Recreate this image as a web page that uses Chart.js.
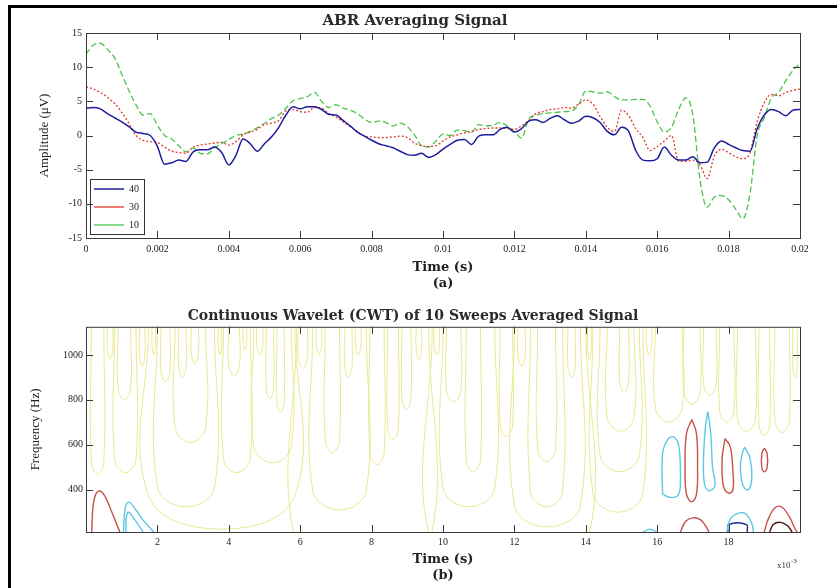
<!DOCTYPE html>
<html>
<head>
<meta charset="utf-8">
<script src="https://cdn.jsdelivr.net/npm/chart.js@4.4.1/dist/chart.umd.min.js"></script>
<style>
  html, body { margin: 0; padding: 0; background: #fff; }
  #wrap { position: relative; width: 837px; height: 588px; overflow: hidden; }
  #frame { position: absolute; left: 8px; top: 5px; width: 900px; height: 700px;
           border-top: 3px solid #000; border-left: 3px solid #000; }
  #abr { position: absolute; left: 0; top: 0; }
  #cwt { position: absolute; left: 0; top: 292px; }
</style>
</head>
<body>
<div id="wrap">
  <div id="frame"></div>
  <canvas id="abr" width="837" height="292"></canvas>
  <canvas id="cwt" width="837" height="296"></canvas>
</div>
<script>
// ---- (a) ABR averaging signal ----
const timeMs = [0,0.2,0.4,0.6,0.8,1,1.2,1.4,1.6,1.8,2,2.2,2.4,2.6,2.8,3,3.2,3.4,3.6,3.8,
  4,4.2,4.4,4.6,4.8,5,5.2,5.4,5.6,5.8,6,6.2,6.4,6.6,6.8,7,7.2,7.4,7.6,7.8,
  8,8.2,8.4,8.6,8.8,9,9.2,9.4,9.6,9.8,10,10.2,10.4,10.6,10.8,11,11.2,11.4,11.6,11.8,
  12,12.2,12.4,12.6,12.8,13,13.2,13.4,13.6,13.8,14,14.2,14.4,14.6,14.8,15,15.2,15.4,15.6,15.8,
  16,16.2,16.4,16.6,16.8,17,17.2,17.4,17.6,17.8,18,18.2,18.4,18.6,18.8,19,19.2,19.4,19.6,19.8,20];

const sweeps40 = [4.0,4.1,3.9,3.2,2.6,2.0,1.3,0.5,0.3,0.0,
  -1.6,-4.2,-4.0,-3.6,-3.8,-2.4,-2.1,-2.1,-1.7,-2.5,
  -4.3,-2.9,-0.5,-1.2,-2.3,-1.2,-0.2,1.2,3.0,4.2,
  3.9,4.2,4.2,3.8,3.1,3.0,2.2,1.4,0.5,-0.1,
  -0.7,-1.2,-1.5,-1.8,-2.3,-2.8,-2.9,-2.6,-3.2,-2.8,
  -2.0,-1.3,-0.7,-0.6,-1.3,-0.1,0.1,0.1,0.9,1.2,
  0.5,1.0,2.1,2.3,1.9,2.5,2.9,2.3,1.8,2.1,
  2.8,2.6,1.9,0.6,0.1,1.2,0.6,-2.2,-3.6,-3.7,
  -3.4,-1.7,-2.9,-3.6,-3.6,-3.1,-4.0,-3.9,-1.8,-0.8,
  -1.3,-1.8,-2.2,-2.3,1.0,3.0,3.8,3.5,2.9,3.7,
  3.8];

const sweeps30 = [7.1,6.8,6.3,5.6,4.7,3.4,1.8,0.0,-0.7,-0.9,
  -1.0,-1.7,-2.3,-2.5,-2.6,-1.7,-1.4,-1.25,-1.1,-1.0,
  -1.4,-0.9,0.1,0.5,0.9,1.6,1.8,2.2,3.6,3.8,
  3.5,3.4,4.1,4.0,3.2,2.7,2.0,1.3,0.6,-0.1,
  -0.2,-0.3,-0.3,-0.2,-0.1,-0.3,-1.1,-1.5,-1.6,-1.5,
  -0.8,-0.2,0.1,0.4,0.6,0.9,1.0,1.1,1.1,1.0,
  0.9,1.4,2.2,3.2,3.5,3.8,3.9,4.1,4.0,4.6,
  5.2,4.6,2.8,1.2,0.6,3.7,2.9,1.0,-0.3,-2.2,
  -1.6,-0.8,0.0,-3.8,-3.8,-3.6,-4.3,-6.3,-3.0,-2.0,
  -2.5,-3.1,-3.4,-2.5,2.0,4.8,6.0,5.8,6.3,6.6,
  6.8];

const sweeps10 = [11.9,13.2,13.5,12.6,11.4,9.0,6.6,4.5,3.0,3.2,
  1.5,0.0,-0.5,-1.5,-2.4,-1.8,-2.6,-2.7,-1.8,-1.2,
  -0.6,0.0,0.2,0.6,1.15,1.8,2.5,3.0,4.0,5.1,
  5.4,5.7,6.3,5.0,4.1,4.5,4.0,3.7,3.2,2.4,
  1.9,2.1,1.9,1.4,1.8,1.3,0.1,-1.5,-1.7,-0.8,
  0.2,0.0,0.8,0.7,0.5,1.6,1.4,1.5,1.9,1.4,
  0.6,-0.4,2.4,3.0,3.2,3.3,3.4,3.5,3.6,4.5,
  6.5,6.4,6.2,6.4,5.7,5.2,5.2,5.3,5.3,4.3,
  2.0,0.5,1.2,3.8,5.5,3.0,-6.5,-10.5,-9.0,-8.8,
  -9.4,-10.8,-12.2,-8.5,0.0,2.6,5.5,6.3,8.0,9.5,
  10.5];

const sweepLabels = ['40', '30', '10'];

// ---- (b) CWT contours, time in ms (x10^-3 s), frequency in Hz ----
const cwtTimeTicks = [2, 4, 6, 8, 10, 12, 14, 16, 18];
const cwtFreqTicks = [400, 600, 800, 1000];

// near-zero (yellow) contours: [left time, right time, lowest frequency]
// a lowest frequency of 0 means the contour runs off the bottom of the plot
const yellowContours = [
  [0.15,0.5,470],[0.6,0.75,980],[0.9,1.25,800],[0.8,1.4,476],[1.5,1.65,950],
  [1.75,5.85,225],[1.85,1.95,1000],[2.1,2.35,880],[2.0,3.6,324],[2.5,3.35,610],
  [2.6,2.8,900],[2.95,3.15,960],[3.7,3.8,1000],[3.85,4.6,476],[4.0,4.3,905],
  [4.4,4.5,1020],[4.7,5.75,520],[4.78,4.95,1000],[5.05,5.25,803],[5.35,5.55,744],
  [5.9,9.6,0],[5.95,6.2,940],[6.35,7.85,310],[6.45,6.6,1000],[6.7,7.1,565],
  [7.25,7.45,900],[7.55,7.7,1000],[7.95,8.35,512],[8.45,8.75,623],[8.85,9.1,758],
  [9.25,9.4,980],[9.7,14.0,0],[9.75,9.9,1000],[10.0,11.45,324],[10.1,10.5,790],
  [10.65,11.05,480],[11.6,11.95,637],[12.0,13.85,235],[12.1,12.3,950],[12.45,13.35,324],
  [12.65,13.15,525],[13.5,13.7,900],[14.05,14.15,980],[14.2,15.6,300],[14.4,15.5,480],
  [14.6,15.35,660],[14.95,15.2,834],[15.7,15.85,1000],[15.95,16.7,700],[16.75,17.2,780],
  [17.3,17.65,820],[17.75,18.15,700],[18.25,18.75,660],[18.85,19.15,640],[19.3,19.7,655],
  [19.8,19.92,900]
];

const redContours = [
  [[0.16,212],[0.2,330],[0.3,388],[0.42,393],[0.55,365],[0.7,310],[0.85,250],[0.95,212]],
  [[16.97,713],[17.1,650],[17.13,500],[17.1,380],[16.97,346],[16.82,380],[16.78,500],[16.82,650],[16.97,713]],
  [[17.9,628],[18.05,590],[18.12,480],[18.12,400],[18.0,385],[17.85,420],[17.82,540],[17.9,628]],
  [[19.0,585],[19.08,560],[19.08,500],[19.0,480],[18.93,500],[18.93,560],[19.0,585]],
  [[16.65,212],[16.8,260],[17.0,275],[17.2,268],[17.35,240],[17.45,212]],
  [[19.0,212],[19.1,265],[19.3,320],[19.5,322],[19.7,280],[19.85,230],[19.92,212]]
];

const cyanContours = [
  [[1.05,212],[1.1,320],[1.2,345],[1.4,310],[1.6,265],[1.9,212]],
  [[1.12,212],[1.13,280],[1.2,300],[1.35,270],[1.6,212]],
  [[16.15,380],[16.15,560],[16.3,625],[16.45,635],[16.6,600],[16.65,450],[16.6,380],[16.4,365],[16.15,380]],
  [[17.42,748],[17.5,650],[17.55,500],[17.62,420],[17.45,395],[17.32,430],[17.3,550],[17.35,680],[17.42,748]],
  [[18.45,590],[18.6,540],[18.65,450],[18.55,400],[18.4,420],[18.33,500],[18.38,560],[18.45,590]],
  [[17.95,212],[18.05,270],[18.3,297],[18.5,290],[18.65,250],[18.7,212]],
  [[15.6,212],[15.8,224],[16.0,212]]
];

const darkBlueContours = [
  [[17.98,212],[18.0,245],[18.5,245],[18.52,212]]
];

const darkRedContours = [
  [[19.15,212],[19.25,245],[19.45,255],[19.65,240],[19.78,212]]
];

const FREQ_MIN = 212, FREQ_MAX = 1125;

// MATLAB-style box with inward ticks on all four sides
const matlabFrame = {
  id: 'matlabFrame',
  afterLayout(chart) {
    // a legend placed in the chart area is laid out from y = 0; move it into the plot box
    const lg = chart.legend;
    if (lg && lg.options.display && lg.options.position === 'chartArea') {
      lg.top = chart.chartArea.top;
      lg.bottom = chart.chartArea.bottom;
    }
  },
  afterDraw(chart, args, opts) {
    const { ctx, chartArea: a } = chart;
    const x = chart.scales.x, y = chart.scales.y;
    ctx.save();
    ctx.strokeStyle = '#3a3a3a';
    ctx.lineWidth = 1;
    ctx.strokeRect(a.left + 0.5, a.top + 0.5, a.right - a.left, a.bottom - a.top);
    const len = 7;
    ctx.beginPath();
    x.ticks.forEach(t => {
      const px = Math.round(x.getPixelForValue(t.value)) + 0.5;
      ctx.moveTo(px, a.top); ctx.lineTo(px, a.top + len);
      ctx.moveTo(px, a.bottom); ctx.lineTo(px, a.bottom - len);
    });
    y.ticks.forEach(t => {
      const py = Math.round(y.getPixelForValue(t.value)) + 0.5;
      ctx.moveTo(a.left, py); ctx.lineTo(a.left + len, py);
      ctx.moveTo(a.right, py); ctx.lineTo(a.right - len, py);
    });
    ctx.stroke();

    if (opts.legendBox && chart.legend && chart.legend.legendHitBoxes.length) {
      const hb = chart.legend.legendHitBoxes;
      const l = Math.min(...hb.map(h => h.left)) - 4;
      const t = Math.min(...hb.map(h => h.top)) - 5;
      const r = Math.max(...hb.map(h => h.left + h.width)) + 5;
      const b = Math.max(...hb.map(h => h.top + h.height)) + 4;
      ctx.strokeStyle = '#333';
      ctx.strokeRect(Math.round(l) + 0.5, Math.round(t) + 0.5, Math.round(r - l), Math.round(b - t));
    }

    if (opts.exponent) {
      ctx.fillStyle = '#333';
      ctx.textAlign = 'left';
      ctx.textBaseline = 'alphabetic';
      ctx.font = '9px "Liberation Serif"';
      ctx.fillText('x10', a.right - 23, a.bottom + 36);
      ctx.font = '7px "Liberation Serif"';
      ctx.fillText('-3', a.right - 9, a.bottom + 31);
    }
    ctx.restore();
  }
};

const tickFont = { family: 'Liberation Serif', size: 10 };
const textColor = '#222';

// ---- chart (a) ----
const seriesStyle = [
  { color: '#1c1c9a', dash: [], width: 1.5 },
  { color: '#e03a2a', dash: [2, 2], width: 1.3 },
  { color: '#4cc44c', dash: [6, 3], width: 1.3 }
];
const sweepSeries = [sweeps40, sweeps30, sweeps10];

new Chart(document.getElementById('abr'), {
  type: 'line',
  data: {
    datasets: sweepSeries.map((vals, k) => ({
      label: sweepLabels[k],
      data: timeMs.map((t, i) => ({ x: t / 1000, y: vals[i] })),
      borderColor: seriesStyle[k].color,
      backgroundColor: seriesStyle[k].color,
      borderDash: seriesStyle[k].dash,
      borderWidth: seriesStyle[k].width,
      pointRadius: 0,
      cubicInterpolationMode: 'monotone',
      fill: false
    }))
  },
  options: {
    responsive: false,
    animation: false,
    events: [],
    layout: { padding: { left: 30, right: 37, top: 0, bottom: 0 } },
    scales: {
      x: {
        type: 'linear', min: 0, max: 0.02,
        grid: { display: false, drawTicks: false },
        border: { display: false },
        ticks: { stepSize: 0.002, padding: 5, maxRotation: 0, autoSkip: false,
                 font: tickFont, color: textColor,
                 callback: v => String(+v.toFixed(4)) },
        title: { display: true, text: ['Time (s)', '(a)'], color: textColor,
                 font: { family: 'DejaVu Serif', size: 13, weight: 'bold', lineHeight: 1.2 },
                 padding: { top: 0, bottom: 1 } },
        afterFit(s) { s.height = 54; }
      },
      y: {
        min: -15, max: 15,
        grid: { display: false, drawTicks: false },
        border: { display: false },
        ticks: { stepSize: 5, padding: 4, font: tickFont, color: textColor },
        title: { display: true, text: 'Amplitude (μV)', color: textColor,
                 font: { family: 'Liberation Serif', size: 13 },
                 padding: { top: 7, bottom: 0 } },
        afterFit(s) { s.width = 56; }
      }
    },
    plugins: {
      title: { display: true, text: 'ABR Averaging Signal', color: '#2a2a2a',
               font: { family: 'DejaVu Serif', size: 15, weight: 'bold' },
               padding: { top: 12, bottom: 3 } },
      legend: {
        position: 'chartArea', align: 'end',
        labels: { usePointStyle: true, pointStyle: 'line', pointStyleWidth: 30,
                  font: { family: 'Liberation Serif', size: 10 }, color: textColor, padding: 8 }
      },
      tooltip: { enabled: false },
      matlabFrame: { legendBox: true }
    }
  },
  plugins: [matlabFrame]
});

// ---- chart (b) ----
const cwtDatasets = [];
yellowContours.forEach(([l, r, fb]) => {
  const bend = Math.min(40 + 30 * (r - l), 150, (FREQ_MAX - fb) * 0.8);
  cwtDatasets.push({
    data: [{ x: l, y: FREQ_MAX }, { x: l, y: fb + bend }, { x: (l + r) / 2, y: fb },
           { x: r, y: fb + bend }, { x: r, y: FREQ_MAX }],
    borderColor: '#e9e990', borderWidth: 1, tension: 0.4
  });
});
[[redContours, '#c8504a'], [cyanContours, '#5cc8e8'],
 [darkBlueContours, '#1c2a8a'], [darkRedContours, '#4a1010']].forEach(([set, color]) => {
  set.forEach(pts => {
    cwtDatasets.push({
      data: pts.map(([t, f]) => ({ x: t, y: f })),
      borderColor: color, borderWidth: 1.4, tension: 0.4
    });
  });
});
cwtDatasets.forEach(d => { d.pointRadius = 0; d.fill = false; });

new Chart(document.getElementById('cwt'), {
  type: 'line',
  data: { datasets: cwtDatasets },
  options: {
    responsive: false,
    animation: false,
    events: [],
    layout: { padding: { left: 26, right: 37, top: 0, bottom: 0 } },
    scales: {
      x: {
        type: 'linear', min: 0, max: 20,
        grid: { display: false, drawTicks: false },
        border: { display: false },
        afterBuildTicks(s) { s.ticks = cwtTimeTicks.map(v => ({ value: v })); },
        ticks: { padding: 4, maxRotation: 0, autoSkip: false, font: tickFont, color: textColor,
                 callback: v => String(v) },
        title: { display: true, text: ['Time (s)', '(b)'], color: textColor,
                 font: { family: 'DejaVu Serif', size: 13, weight: 'bold', lineHeight: 1.2 },
                 padding: { top: 0, bottom: 5 } },
        afterFit(s) { s.height = 56; }
      },
      y: {
        min: FREQ_MIN, max: FREQ_MAX,
        grid: { display: false, drawTicks: false },
        border: { display: false },
        afterBuildTicks(s) { s.ticks = cwtFreqTicks.map(v => ({ value: v })); },
        ticks: { padding: 3, font: tickFont, color: textColor, callback: v => String(v) },
        title: { display: true, text: 'Frequency (Hz)', color: textColor,
                 font: { family: 'Liberation Serif', size: 13 },
                 padding: { top: 2, bottom: 0 } },
        afterFit(s) { s.width = 60; }
      }
    },
    plugins: {
      title: { display: true, text: 'Continuous Wavelet (CWT) of 10 Sweeps Averaged Signal',
               color: '#2a2a2a', font: { family: 'DejaVu Serif', size: 14, weight: 'bold' },
               padding: { top: 16, bottom: 2 } },
      legend: { display: false },
      tooltip: { enabled: false },
      matlabFrame: { exponent: true }
    }
  },
  plugins: [matlabFrame]
});
</script>
</body>
</html>
